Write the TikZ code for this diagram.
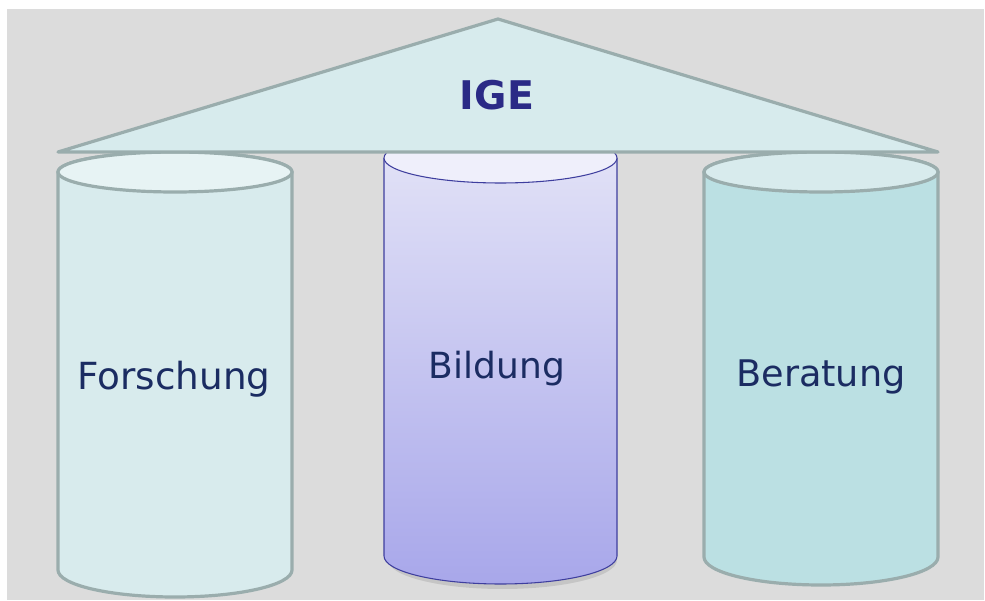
\documentclass[tikz,border=0pt]{standalone}
\usepackage{fontspec}
\setmainfont{DejaVu Sans}
\begin{document}
\begin{tikzpicture}[x=0.75pt,y=0.75pt,
  pillarline/.style={draw=pillarstroke,line width=2.4pt},
  midline/.style={draw=midstroke,line width=0.8pt},
  pillartext/.style={anchor=base,text=labelblue,inner sep=0pt}]
\definecolor{bgray}{HTML}{DCDCDC}
\definecolor{pillarstroke}{HTML}{9AADAD}
\definecolor{roofcol}{HTML}{D7EBED}
\definecolor{lefttop}{HTML}{E7F3F4}
\definecolor{leftbody}{HTML}{D8EBED}
\definecolor{righttop}{HTML}{D8EBED}
\definecolor{rightbody}{HTML}{BBE0E3}
\definecolor{midstroke}{HTML}{3E3E9E}
\definecolor{midtop}{HTML}{EFEFFB}
\definecolor{midupper}{HTML}{E4E4F7}
\definecolor{midlower}{HTML}{A8A7EA}
\definecolor{labelblue}{HTML}{1B2C62}
\definecolor{igeblue}{HTML}{2A2A86}
\useasboundingbox (0,0) rectangle (985,600);
\fill[white] (0,0) rectangle (985,600);
\fill[bgray] (7,0) rectangle (984,591);
% left pillar
\path[pillarline,fill=leftbody] (58,428) -- (58,30) arc[start angle=180,end angle=360,x radius=117,y radius=27] -- (292,428) arc[start angle=0,end angle=180,x radius=117,y radius=20] -- cycle;
\path[pillarline,fill=lefttop] (175,428) ellipse[x radius=117,y radius=20];
% right pillar
\path[pillarline,fill=rightbody] (704,428) -- (704,43) arc[start angle=180,end angle=360,x radius=117,y radius=28] -- (938,428) arc[start angle=0,end angle=180,x radius=117,y radius=20] -- cycle;
\path[pillarline,fill=righttop] (821,428) ellipse[x radius=117,y radius=20];
% middle pillar
\fill[black,opacity=0.1] (388,40) arc[start angle=180,end angle=360,x radius=114.5,y radius=29] -- cycle;
\shade[top color=midupper,bottom color=midlower] (384,442) -- (384,44) arc[start angle=180,end angle=360,x radius=116.5,y radius=28] -- (617,442) arc[start angle=0,end angle=180,x radius=116.5,y radius=25] -- cycle;
\path[midline] (384,442) -- (384,44) arc[start angle=180,end angle=360,x radius=116.5,y radius=28] -- (617,442);
\path[midline,fill=midtop] (500.5,442) ellipse[x radius=116.5,y radius=25];
% roof
\path[pillarline,fill=roofcol,line join=round] (58,448) -- (498,581) -- (938,448) -- cycle;
% labels
\node[anchor=base,text=igeblue,font=\fontsize{29.6}{34}\selectfont\bfseries,inner sep=0pt] (ige) at (497,490) {IGE};
\node[pillartext,font=\fontsize{28}{32}\selectfont] (forschung) at (174,210) {Forschung};
\node[pillartext,font=\fontsize{27}{32}\selectfont] (bildung) at (497,221) {Bildung};
\node[pillartext,font=\fontsize{27.5}{32}\selectfont] (beratung) at (821,213) {Beratung};
\end{tikzpicture}
\end{document}
